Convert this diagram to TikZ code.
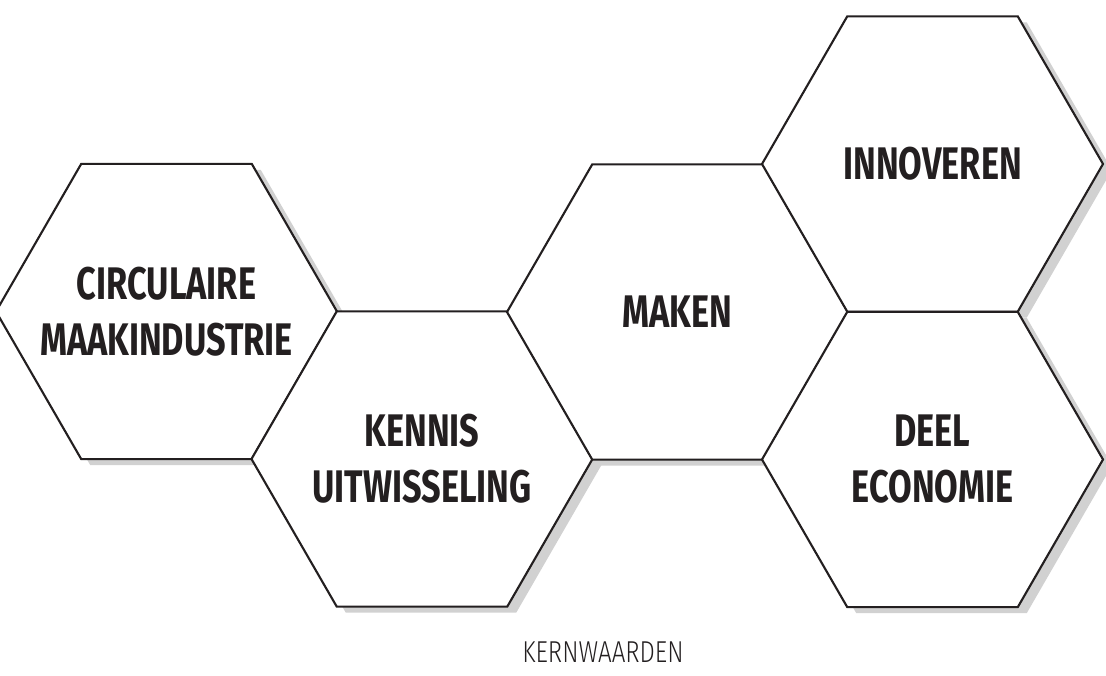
\documentclass[tikz,border=0pt]{standalone}
\usepackage{fontspec}
\newfontfamily\hexfont[FakeStretch=0.75]{Fira Sans}
\newfontfamily\kernfont[FakeStretch=0.8]{Fira Sans Light}
\usetikzlibrary{shapes.geometric, shadows}
\definecolor{inkt}{HTML}{231F20}
\tikzset{hexagon/.style={regular polygon, regular polygon sides=6,
    minimum size=3.41cm, inner sep=0pt, outer sep=0pt, draw=inkt, line width=0.6pt,
    fill=white,
    drop shadow={shadow xshift=0.09cm, shadow yshift=-0.06cm, fill=black!18, opacity=1, draw=none}}}
\tikzset{hextext/.style={text=inkt, align=center, inner sep=0pt,
    font=\hexfont\bfseries\fontsize{13}{15.9}\selectfont}}
\tikzset{caption/.style={text=inkt, font=\kernfont\fontsize{8.6}{10}\selectfont, anchor=base}}

\begin{document}
\begin{tikzpicture}
    \useasboundingbox (0, 0) rectangle (11.06, 6.76);
    % honingraat
    \node[hexagon] (circulair) at (1.665, 3.645) {};
    \node[hexagon] (kennis) at (4.22, 2.17) {};
    \node[hexagon] (maken) at (6.775, 3.64) {};
    \node[hexagon] (innoveren) at (9.325, 5.12) {};
    \node[hexagon] (deel) at (9.325, 2.165) {};
    % teksten
    \node[hextext] (circulair-t) at (circulair.center) {CIRCULAIRE\\MAAKINDUSTRIE};
    \node[hextext] (kennis-t) at (kennis.center) {KENNIS\\UITWISSELING};
    \node[hextext] (maken-t) at (maken.center) {MAKEN};
    \node[hextext] (innoveren-t) at (innoveren.center) {INNOVEREN};
    \node[hextext] (deel-t) at (deel.center) {DEEL\\ECONOMIE};
    % onderschrift
    \node[caption] (kern) at (6.03, 0.13) {KERNWAARDEN};
\end{tikzpicture}
\end{document}
